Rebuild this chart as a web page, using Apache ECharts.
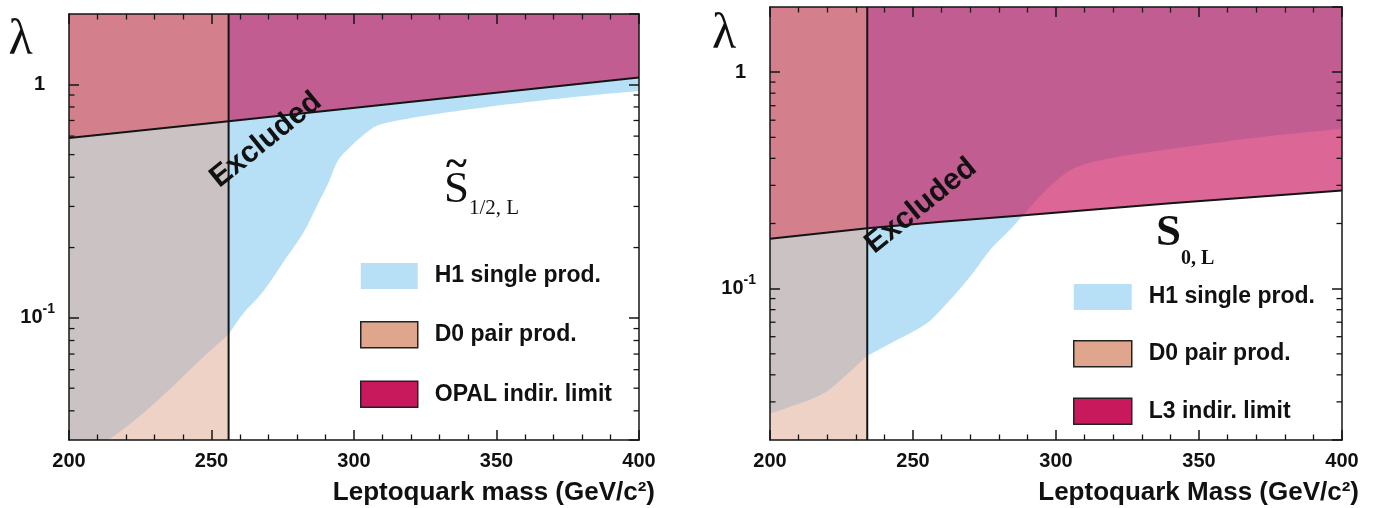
<!DOCTYPE html>
<html><head><meta charset="utf-8">
<script src="https://cdn.jsdelivr.net/npm/echarts@6/dist/echarts.min.js"></script>
<style>html,body{margin:0;padding:0;background:#fff}#c{width:1375px;height:508px}</style>
</head><body><div id="c"></div>
<script>
// ---------------- data ----------------
const xTicks = [200, 250, 300, 350, 400];
const massRange = [200, 400];
const lambdaRangeL = [0.03, 2];
const lambdaRangeR = [0.02, 2];

// left panel (S~ 1/2, L)
const d0LimitL = 256;
const opalMass = [200, 256, 400];
const opalLambda = [0.589, 0.695, 1.07];
const h1MassL   = [200, 206, 213.8, 222.5, 234.2, 246, 256, 261, 267.5, 275.7, 282.7, 287.4, 290.9, 294.4, 298, 302.5, 308.4, 317, 326, 340, 361, 380, 400];
const h1LambdaL = [0.023, 0.026, 0.030, 0.036, 0.048, 0.066, 0.085, 0.104, 0.127, 0.177, 0.237, 0.309, 0.376, 0.473, 0.53, 0.595, 0.668, 0.706, 0.737, 0.78, 0.84, 0.889, 0.936];

// right panel (S 0, L)
const d0LimitR = 234;
const l3Mass   = [200, 234, 260, 290, 340, 400];
const l3Lambda = [0.170, 0.190, 0.204, 0.219, 0.248, 0.284];
const h1MassR   = [200, 206.8, 218.5, 227.8, 234, 243, 254.6, 262.8, 269.8, 277.9, 283.7, 288.4, 293.1, 298.9, 305.9, 315.2, 336.2, 371.2, 400];
const h1LambdaR = [0.0265, 0.0284, 0.0327, 0.0412, 0.049, 0.0567, 0.0689, 0.0883, 0.113, 0.156, 0.186, 0.218, 0.256, 0.305, 0.358, 0.391, 0.435, 0.501, 0.548];

// tick values / labels
const yMajorLabels = {'0.1': '{n|10}{s|-1}', '1': '{one|1}'};
const yMinorTicksL = [0.04, 0.05, 0.06, 0.07, 0.08, 0.09, 0.2, 0.3, 0.4, 0.5, 0.6, 0.7, 0.8, 0.9];
const yMinorTicksR = [0.03, 0.04, 0.05, 0.06, 0.07, 0.08, 0.09, 0.2, 0.3, 0.4, 0.5, 0.6, 0.7, 0.8, 0.9];

const legendNamesL = ['H1 single prod.', 'D0 pair prod.', 'OPAL indir. limit'];
const legendNamesR = ['H1 single prod.', 'D0 pair prod.', 'L3 indir. limit'];

// ---------------- style ----------------
const C = {
  peach: '#eed2c6', gray: '#cbc3c3', blue: '#b7e0f6', pinkL: '#d3808c',
  purple: '#c25d91', pinkR: '#dc6695', legD0: '#e0a68d', legLim: '#c8195c',
  ink: '#141414'
};
const SANS = '"Liberation Sans", Arial, Helvetica, sans-serif';
const SERIF = '"Liberation Serif", "Times New Roman", serif';

// ---------------- helpers ----------------
function logInterp(xs, ys, x) {
  for (let i = 0; i < xs.length - 1; i++) {
    if (x >= xs[i] && x <= xs[i + 1]) {
      const t = (x - xs[i]) / (xs[i + 1] - xs[i]);
      return Math.pow(10, Math.log10(ys[i]) + t * (Math.log10(ys[i + 1]) - Math.log10(ys[i])));
    }
  }
  return x < xs[0] ? ys[0] : ys[ys.length - 1];
}
// monotone cubic smoothing of a screen-space polyline (x increasing) for drawing only
function smoothPath(p, steps) {
  const n = p.length;
  if (n < 3) return p.slice();
  const dx = [], m = [], t = [];
  for (let i = 0; i < n - 1; i++) { dx[i] = p[i + 1][0] - p[i][0]; m[i] = (p[i + 1][1] - p[i][1]) / dx[i]; }
  t[0] = m[0];
  for (let i = 1; i < n - 1; i++) {
    if (m[i - 1] * m[i] <= 0) t[i] = 0;
    else t[i] = 3 * (dx[i - 1] + dx[i]) / ((2 * dx[i] + dx[i - 1]) / m[i - 1] + (dx[i] + 2 * dx[i - 1]) / m[i]);
  }
  t[n - 1] = m[n - 2];
  const out = [];
  for (let i = 0; i < n - 1; i++) {
    const h = dx[i];
    for (let s = 0; s < steps; s++) {
      const u = s / steps, u2 = u * u, u3 = u2 * u;
      const y = (2 * u3 - 3 * u2 + 1) * p[i][1] + (u3 - 2 * u2 + u) * h * t[i] + (-2 * u3 + 3 * u2) * p[i + 1][1] + (u3 - u2) * h * t[i + 1];
      out.push([p[i][0] + u * h, y]);
    }
  }
  out.push(p[n - 1]);
  return out;
}
function above(api, xs, ys, x0, x1, yMin, top, fill) {
  const raw = [];
  xs.forEach((x, i) => { if (x >= x0 - 1e-9 && x <= x1 + 1e-9) raw.push(api.coord([x, ys[i]])); });
  const bottom = api.coord([x0, yMin])[1];
  const pts = smoothPath(raw, 10).map(q => [q[0], Math.min(q[1], bottom)]);
  pts.push(api.coord([x1, top]), api.coord([x0, top]));
  return {type: 'polygon', shape: {points: pts}, style: {fill: fill}};
}
function band(api, x0, x1, y0, y1, fill) {
  const a = api.coord([x0, y0]), b = api.coord([x1, y1]);
  return {type: 'rect', shape: {x: a[0], y: b[1], width: b[0] - a[0], height: a[1] - b[1]}, style: {fill: fill}};
}
function region(name, gi, legendColor, bordered, z, build) {
  return {
    type: 'custom', name: name, coordinateSystem: 'cartesian2d', clip: true,
    xAxisIndex: gi * 2, yAxisIndex: gi * 2, silent: true, z: z,
    data: [[300, 0.5]],
    itemStyle: {color: legendColor, borderColor: bordered ? '#222' : legendColor, borderWidth: bordered ? 1.5 : 0},
    renderItem: (params, api) => ({type: 'group', children: build(api)})
  };
}
function lineSeries(gi, pts, z) {
  return {
    type: 'line', xAxisIndex: gi * 2, yAxisIndex: gi * 2, data: pts, showSymbol: false,
    symbol: 'none', silent: true, z: z, lineStyle: {color: C.ink, width: 2}, animation: false
  };
}
function minorTickSeries(gi, vals) {
  return {
    type: 'custom', coordinateSystem: 'cartesian2d', xAxisIndex: gi * 2, yAxisIndex: gi * 2,
    silent: true, z: 8, data: vals.map(v => [massRange[0], v]),
    renderItem: (params, api) => {
      const v = api.value(1);
      const p = api.coord([massRange[0], v]), q = api.coord([massRange[1], v]);
      return {type: 'group', children: [
        {type: 'line', shape: {x1: p[0], y1: p[1], x2: p[0] + 5.5, y2: p[1]}, style: {stroke: C.ink, lineWidth: 1.3}},
        {type: 'line', shape: {x1: q[0] - 5.5, y1: q[1], x2: q[0], y2: q[1]}, style: {stroke: C.ink, lineWidth: 1.3}}
      ]};
    }
  };
}

// ---------------- axes ----------------
const axLine = {show: true, onZero: false, lineStyle: {color: C.ink, width: 1.5}};
function xAx(gi, pos, showLabel) {
  return {
    type: 'value', gridIndex: gi, position: pos, min: massRange[0], max: massRange[1], interval: 50,
    axisLine: axLine,
    axisTick: {show: true, inside: true, length: 10, lineStyle: {color: C.ink, width: 1.5}},
    minorTick: {show: true, splitNumber: 5, length: 5.5, lineStyle: {color: C.ink, width: 1.3}},
    splitLine: {show: false}, minorSplitLine: {show: false},
    axisLabel: {show: showLabel, margin: 11, color: '#111', fontSize: 20, fontWeight: 'bold', fontFamily: SANS,
      formatter: v => (xTicks.indexOf(v) >= 0 ? String(v) : '')},
    z: 10
  };
}
function yAx(gi, pos, range, showLabel) {
  return {
    type: 'log', logBase: 10, gridIndex: gi, position: pos, min: range[0], max: range[1],
    axisLine: axLine,
    axisTick: {show: true, inside: true, length: 10, lineStyle: {color: C.ink, width: 1.5}},
    splitLine: {show: false},
    axisLabel: {
      show: showLabel, margin: 14, showMinLabel: false, showMaxLabel: false,
      formatter: v => {
        const k = Math.abs(v - 1) < 1e-6 ? '1' : (Math.abs(v - 0.1) < 1e-7 ? '0.1' : null);
        return k ? yMajorLabels[k] : '';
      },
      rich: {
        n: {fontSize: 20, fontWeight: 'bold', fontFamily: SANS, color: '#111', lineHeight: 20, verticalAlign: 'bottom'},
        one: {fontSize: 20, fontWeight: 'bold', fontFamily: SANS, color: '#111', lineHeight: 20, padding: [0, 10, 0, 0]},
        s: {fontSize: 14, fontWeight: 'bold', fontFamily: SANS, color: '#111', lineHeight: 14, verticalAlign: 'bottom', padding: [0, 0, 12, 0]}
      }
    },
    z: 10
  };
}

// ---------------- series ----------------
const [yMinL, yMaxL] = lambdaRangeL;
const [yMinR, yMaxR] = lambdaRangeR;

const mergedR = Array.from(new Set(h1MassR.concat(l3Mass))).filter(x => x >= d0LimitR).sort((a, b) => a - b);
const bothR = mergedR.map(x => Math.max(logInterp(h1MassR, h1LambdaR, x), logInterp(l3Mass, l3Lambda, x)));

const series = [
  // left
  region('D0 pair prod.', 0, C.legD0, true, 1, api => [band(api, massRange[0], d0LimitL, yMinL, yMaxL, C.peach)]),
  region('H1 single prod.', 0, C.blue, false, 2, api => [
    above(api, h1MassL, h1LambdaL, massRange[0], d0LimitL, yMinL, yMaxL, C.gray),
    above(api, h1MassL, h1LambdaL, d0LimitL, massRange[1], yMinL, yMaxL, C.blue)
  ]),
  region('OPAL indir. limit', 0, C.legLim, true, 3, api => [
    above(api, opalMass, opalLambda, massRange[0], d0LimitL, yMinL, yMaxL, C.pinkL),
    above(api, opalMass, opalLambda, d0LimitL, massRange[1], yMinL, yMaxL, C.purple)
  ]),
  lineSeries(0, opalMass.map((m, i) => [m, opalLambda[i]]), 5),
  lineSeries(0, [[d0LimitL, yMinL], [d0LimitL, yMaxL]], 5),
  minorTickSeries(0, yMinorTicksL),
  // right
  region('D0 pair prod.', 1, C.legD0, true, 1, api => [band(api, massRange[0], d0LimitR, yMinR, yMaxR, C.peach)]),
  region('H1 single prod.', 1, C.blue, false, 2, api => [
    above(api, h1MassR, h1LambdaR, massRange[0], d0LimitR, yMinR, yMaxR, C.gray),
    above(api, h1MassR, h1LambdaR, d0LimitR, massRange[1], yMinR, yMaxR, C.blue)
  ]),
  region('L3 indir. limit', 1, C.legLim, true, 3, api => [
    above(api, l3Mass, l3Lambda, massRange[0], d0LimitR, yMinR, yMaxR, C.pinkL),
    above(api, l3Mass, l3Lambda, d0LimitR, massRange[1], yMinR, yMaxR, C.pinkR),
    above(api, mergedR, bothR, d0LimitR, massRange[1], yMinR, yMaxR, C.purple)
  ]),
  lineSeries(1, l3Mass.map((m, i) => [m, l3Lambda[i]]), 5),
  lineSeries(1, [[d0LimitR, yMinR], [d0LimitR, yMaxR]], 5),
  minorTickSeries(1, yMinorTicksR)
];

function legendData(names) {
  return names.map(n => {
    if (n.indexOf('H1') === 0) return {name: n, itemStyle: {color: C.blue, borderWidth: 0}};
    if (n.indexOf('D0') === 0) return {name: n, itemStyle: {color: C.legD0, borderColor: '#222', borderWidth: 1.5}};
    return {name: n, itemStyle: {color: C.legLim, borderColor: '#222', borderWidth: 1.5}};
  });
}
const legendText = {fontSize: 23, fontWeight: 'bold', fontFamily: SANS, color: '#111', padding: [0, 0, 0, 12]};

function txt(x, y, text, font, opts) {
  return Object.assign({type: 'text', x: x, y: y, z: 100, silent: true,
    style: Object.assign({text: text, font: font, fill: '#111', align: 'left', verticalAlign: 'middle'}, (opts && opts.style) || {})},
    (opts && opts.el) || {});
}

const option = {
  animation: false,
  backgroundColor: '#fff',
  grid: [
    {left: 69, top: 14, width: 570, height: 426},
    {left: 770, top: 7, width: 572, height: 433}
  ],
  xAxis: [xAx(0, 'bottom', true), xAx(0, 'top', false), xAx(1, 'bottom', true), xAx(1, 'top', false)],
  yAxis: [yAx(0, 'left', lambdaRangeL, true), yAx(0, 'right', lambdaRangeL, false),
          yAx(1, 'left', lambdaRangeR, true), yAx(1, 'right', lambdaRangeR, false)],
  legend: [
    {left: 360, top: 263, padding: 0, orient: 'vertical', icon: 'rect', itemWidth: 57, itemHeight: 26, itemGap: 32,
     selectedMode: false, data: legendData(legendNamesL), textStyle: legendText},
    {left: 1073, top: 284, padding: 0, orient: 'vertical', icon: 'rect', itemWidth: 58, itemHeight: 26, itemGap: 30,
     selectedMode: false, data: legendData(legendNamesR), textStyle: legendText}
  ],
  graphic: [
    txt(20.5, 41, 'λ', '50px ' + SERIF, {style: {align: 'center'}}),
    txt(724, 35, 'λ', '50px ' + SERIF, {style: {align: 'center'}}),
    txt(266, 140, 'Excluded', 'bold 30px ' + SANS, {style: {align: 'center'}, el: {rotation: 0.68}}),
    txt(921, 206, 'Excluded', 'bold 30px ' + SANS, {style: {align: 'center'}, el: {rotation: 0.68}}),
    txt(444, 190, 'S', '45px ' + SERIF),
    txt(456.5, 166, '~', 'bold 40px ' + SERIF, {style: {align: 'center'}}),
    txt(469, 208, '1/2, L', '21px ' + SERIF),
    txt(1156, 233, 'S', 'bold 45px ' + SERIF),
    txt(1181, 259, '0, L', 'bold 20px ' + SERIF),
    txt(655, 493, 'Leptoquark mass (GeV/c²)', 'bold 26px ' + SANS, {style: {align: 'right'}}),
    txt(1359, 493, 'Leptoquark Mass (GeV/c²)', 'bold 26px ' + SANS, {style: {align: 'right'}})
  ],
  series: series
};

const chart = echarts.init(document.getElementById('c'), null, {renderer: 'canvas'});
chart.setOption(option);
</script>
</body></html>
